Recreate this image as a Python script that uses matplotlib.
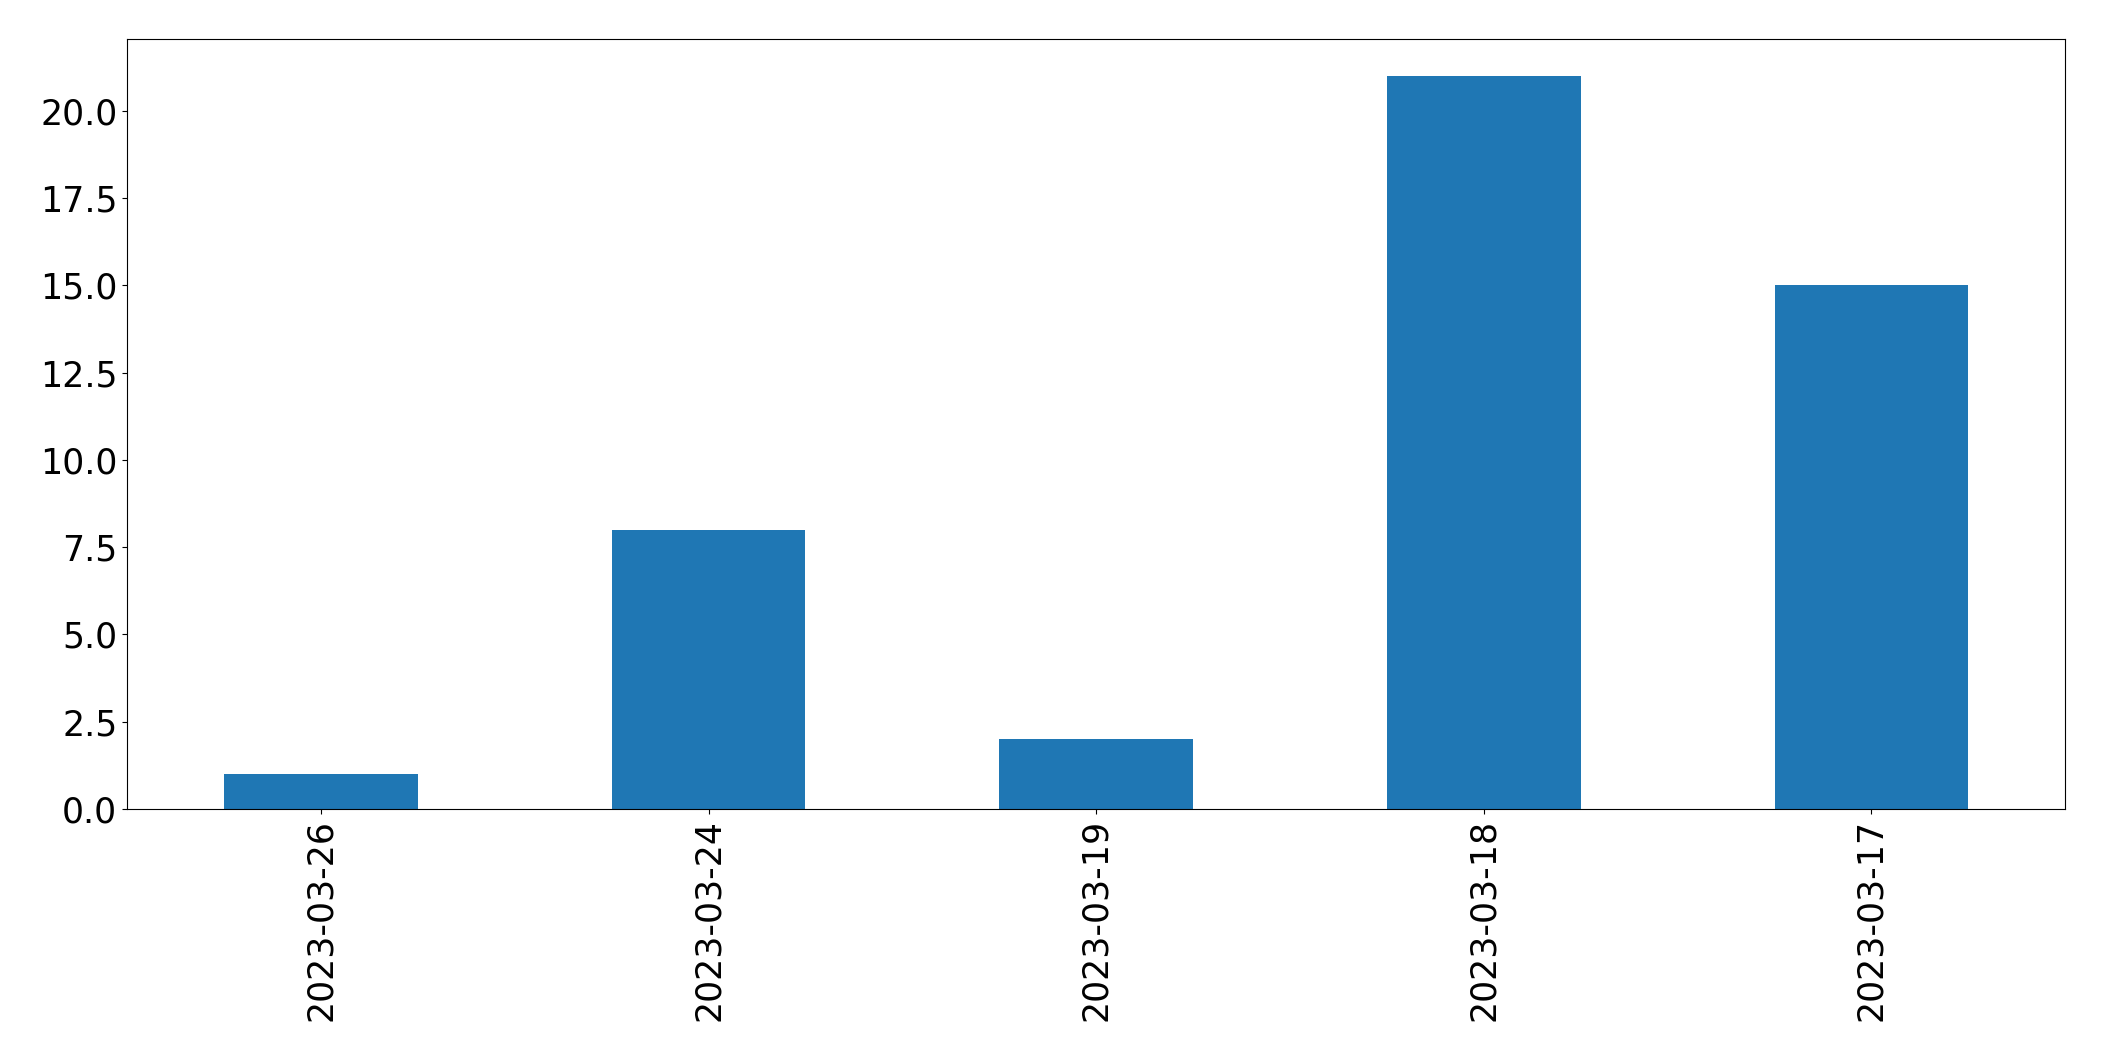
import matplotlib
matplotlib.use("Agg")
import matplotlib.pyplot as plt
import pandas as pd

# event counts per day
dates = ["2023-03-26", "2023-03-24", "2023-03-19", "2023-03-18", "2023-03-17"]
counts = [1, 8, 2, 21, 15]

s = pd.Series(counts, index=dates)

fig = plt.figure(figsize=(21.04, 10.61), dpi=100)
ax = fig.add_axes([0.0604, 0.2375, 0.9212, 0.7255])
s.plot(kind="bar", ax=ax, color="#1f77b4")
ax.tick_params(axis="both", labelsize=25)

plt.savefig("out.png", dpi=100)
